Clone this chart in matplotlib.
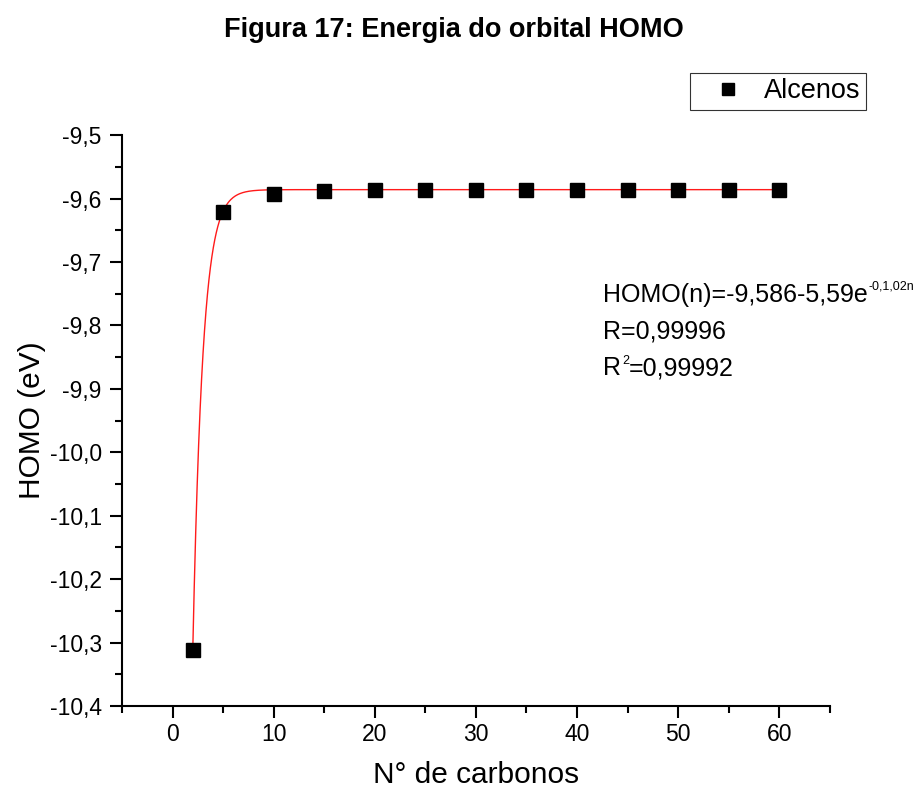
import matplotlib.pyplot as plt
import numpy as np
from matplotlib.ticker import MultipleLocator, FuncFormatter

plt.rcParams['font.family'] = ['Liberation Sans', 'DejaVu Sans']

# dados
n_carbonos = [2, 5, 10, 15, 20, 25, 30, 35, 40, 45, 50, 55, 60]
homo = [-10.312, -9.621, -9.593, -9.588, -9.587, -9.587, -9.586,
        -9.586, -9.586, -9.586, -9.586, -9.586, -9.586]

# parametros do ajuste (texto do grafico)
fit_a = -9.586
fit_b = 5.59
fit_k = 1.02

fig = plt.figure(figsize=(9.22, 7.9), dpi=100)
ax = fig.add_axes([0.1323, 0.1063, 0.7677, 0.7227])

n_fit = np.linspace(min(n_carbonos), max(n_carbonos), 800)
ax.plot(n_fit, fit_a - fit_b * np.exp(-fit_k * n_fit), color='#ff1a1a', lw=1.0, zorder=2)
ax.plot(n_carbonos, homo, 's', color='black', ms=9.5, label='Alcenos', zorder=3)

ax.set_xlim(-5, 65)
ax.set_ylim(-10.4, -9.5)
ax.xaxis.set_major_locator(MultipleLocator(10))
ax.xaxis.set_minor_locator(MultipleLocator(5))
ax.yaxis.set_major_locator(MultipleLocator(0.1))
ax.yaxis.set_minor_locator(MultipleLocator(0.05))
ax.yaxis.set_major_formatter(FuncFormatter(lambda v, p: ('%.1f' % v).replace('.', ',')))
ax.xaxis.set_major_formatter(FuncFormatter(lambda v, p: '%d' % v))

ax.spines['top'].set_visible(False)
ax.spines['right'].set_visible(False)
for s in ['left', 'bottom']:
    ax.spines[s].set_linewidth(1.5)
ax.tick_params(which='major', direction='out', length=8.6, width=1.5, labelsize=16.5)
ax.tick_params(axis='x', which='major', pad=3.5)
ax.tick_params(axis='y', which='major', pad=6)
ax.tick_params(which='minor', direction='out', length=5, width=1.5)

ax.set_xlabel('N° de carbonos', fontsize=21.5)
ax.set_ylabel('HOMO (eV)', fontsize=21.5)
ax.xaxis.set_label_coords(0.5, -0.096)
ax.yaxis.set_label_coords(-0.107, 0.5)

fig.text(0.4924, 0.9535, 'Figura 17: Energia do orbital HOMO', ha='center', va='baseline',
         fontsize=19.5, fontweight='bold')

eq = ax.text(0.680, 0.7075, 'HOMO(n)=-9,586-5,59e', transform=ax.transAxes,
             fontsize=18, va='baseline')
ax.annotate('-0,1,02n', xy=(1, 1), xycoords=eq, xytext=(0.5, 2), textcoords='offset points',
            fontsize=9, va='top', ha='left')
ax.text(0.680, 0.6445, 'R=0,99996', transform=ax.transAxes, fontsize=18, va='baseline')
r2 = ax.text(0.680, 0.5797, 'R', transform=ax.transAxes, fontsize=18, va='baseline')
sup2 = ax.annotate('2', xy=(1, 1), xycoords=r2, xytext=(0.5, 1), textcoords='offset points',
                   fontsize=9, va='top', ha='left')
ax.annotate('=0,99992', xy=(1, 0), xycoords=(sup2, r2), xytext=(0, 0),
            textcoords='offset points', fontsize=18, va='bottom', ha='left')

leg = ax.legend(loc='upper right', bbox_to_anchor=(866 / 922, 1 - 72.7 / 790),
                bbox_transform=fig.transFigure, borderaxespad=0, fontsize=19.5,
                frameon=True, fancybox=False, edgecolor='black', handlelength=2.4,
                handletextpad=0.15, borderpad=0.2, markerscale=0.9)
leg.get_frame().set_linewidth(0.8)

plt.savefig('out.png', dpi=100)
